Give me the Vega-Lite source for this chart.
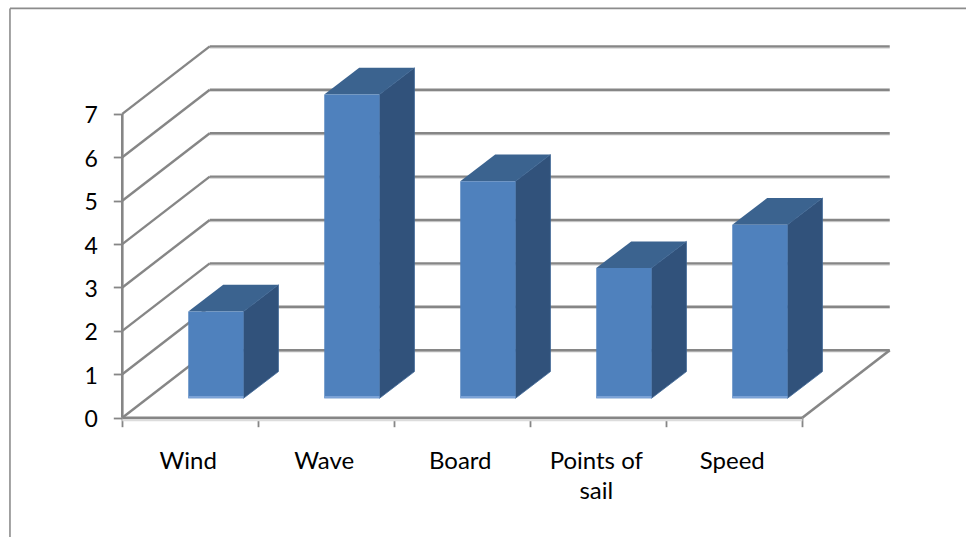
{
  "$schema": "https://vega.github.io/schema/vega-lite/v6.json",
  "width": 966,
  "height": 537,
  "padding": 0,
  "autosize": {"type": "none"},
  "background": "white",
  "config": {"view": {"stroke": null}},
  "params": [
    {"name": "wallDx", "value": 0.643},
    {"name": "wallDy", "value": 1.555},
    {"name": "barDx", "value": 0.257},
    {"name": "barDy", "value": 0.615}
  ],
  "datasets": {
    "levels": [
      {"level": 0}, {"level": 1}, {"level": 2}, {"level": 3},
      {"level": 4}, {"level": 5}, {"level": 6}, {"level": 7}
    ],
    "edges": [
      {"edge": "frame top", "x0": -0.826, "x1": 6.2037, "y0": 9.43, "y1": 9.43},
      {"edge": "frame left", "x0": -0.826, "x1": -0.826, "y0": 9.43, "y1": -2.749}
    ],
    "floorShadow": [
      {"edge": "front shadow", "x0": 0, "x1": 5, "y0": -0.05, "y1": -0.05}
    ],
    "floorEdges": [
      {"edge": "front", "x0": 0, "x1": 5, "y0": 0, "y1": 0},
      {"edge": "right", "x0": 5, "x1": 5.643, "y0": 0, "y1": 1.555},
      {"edge": "value axis", "x0": 0, "x1": 0, "y0": 0, "y1": 7}
    ]
  },
  "data": {
    "values": [
      {"topic": "Wind", "value": 2},
      {"topic": "Wave", "value": 7},
      {"topic": "Board", "value": 5},
      {"topic": "Points of\nsail", "value": 3},
      {"topic": "Speed", "value": 4}
    ]
  },
  "transform": [
    {"window": [{"op": "row_number", "as": "n"}]},
    {"calculate": "datum.n - 1", "as": "slot"},
    {"calculate": "datum.slot + 0.485", "as": "left"},
    {"calculate": "datum.left + 0.406", "as": "right"},
    {"calculate": "0.447", "as": "floor"},
    {"calculate": "datum.floor + datum.value", "as": "top"}
  ],
  "layer": [
    {
      "description": "Chart frame; this layer also carries the two axes",
      "data": {"name": "edges"},
      "mark": {"type": "rule", "stroke": "#8c8c8c", "strokeWidth": 1.6},
      "encoding": {
        "x": {
          "field": "x0",
          "type": "quantitative",
          "title": null,
          "scale": {"domain": [-0.8993, 6.2037], "nice": false, "zero": false},
          "axis": {
            "values": [0, 1, 2, 3, 4, 5],
            "orient": "bottom",
            "offset": -119.3,
            "grid": false,
            "domain": false,
            "labels": false,
            "tickSize": 9,
            "tickColor": "#868686",
            "tickWidth": 1.8,
            "title": null
          }
        },
        "x2": {"field": "x1"},
        "y": {
          "field": "y0",
          "type": "quantitative",
          "title": null,
          "scale": {"domain": [-2.749, 9.624], "nice": false, "zero": false},
          "axis": {
            "values": [0, 1, 2, 3, 4, 5, 6, 7],
            "format": "d",
            "orient": "left",
            "offset": -122.3,
            "grid": false,
            "domain": false,
            "tickSize": 9,
            "tickColor": "#868686",
            "tickWidth": 1.8,
            "labelFont": "Lato",
            "labelFontSize": 23,
            "labelColor": "#000000",
            "labelPadding": 16,
            "labelOffset": 2,
            "title": null
          }
        },
        "y2": {"field": "y1"}
      }
    },
    {
      "description": "Soft shadow under the back wall lines",
      "data": {"name": "levels"},
      "transform": [
        {"calculate": "datum.level + wallDy - 0.035", "as": "height"},
        {"calculate": "wallDx", "as": "start"},
        {"calculate": "5 + wallDx", "as": "end"}
      ],
      "mark": {"type": "rule", "stroke": "#d9d9d9", "strokeWidth": 1.6},
      "encoding": {
        "x": {"field": "start", "type": "quantitative", "title": null},
        "x2": {"field": "end"},
        "y": {"field": "height", "type": "quantitative", "title": null},
        "y2": {"field": "height"}
      }
    },
    {
      "description": "Back wall lines",
      "data": {"name": "levels"},
      "transform": [
        {"calculate": "datum.level + wallDy", "as": "height"},
        {"calculate": "wallDx", "as": "start"},
        {"calculate": "5 + wallDx", "as": "end"}
      ],
      "mark": {"type": "rule", "stroke": "#868686", "strokeWidth": 2.4},
      "encoding": {
        "x": {"field": "start", "type": "quantitative", "title": null},
        "x2": {"field": "end"},
        "y": {"field": "height", "type": "quantitative", "title": null},
        "y2": {"field": "height"}
      }
    },
    {
      "description": "Side wall lines running from the front axis to the back wall",
      "data": {"name": "levels"},
      "transform": [
        {"calculate": "datum.level + wallDy", "as": "height"},
        {"calculate": "wallDx", "as": "end"},
        {"calculate": "0", "as": "start"}
      ],
      "mark": {"type": "rule", "stroke": "#868686", "strokeWidth": 2.4},
      "encoding": {
        "x": {"field": "start", "type": "quantitative", "title": null},
        "x2": {"field": "end"},
        "y": {"field": "level", "type": "quantitative", "title": null},
        "y2": {"field": "height"}
      }
    },
    {
      "description": "Soft shadow under the floor's front edge",
      "data": {"name": "floorShadow"},
      "mark": {"type": "rule", "stroke": "#dcdcdc", "strokeWidth": 3},
      "encoding": {
        "x": {"field": "x0", "type": "quantitative", "title": null},
        "x2": {"field": "x1"},
        "y": {"field": "y0", "type": "quantitative", "title": null},
        "y2": {"field": "y1"}
      }
    },
    {
      "description": "Floor edges and the value axis line",
      "data": {"name": "floorEdges"},
      "mark": {"type": "rule", "stroke": "#868686", "strokeWidth": 2.6},
      "encoding": {
        "x": {"field": "x0", "type": "quantitative", "title": null},
        "x2": {"field": "x1"},
        "y": {"field": "y0", "type": "quantitative", "title": null},
        "y2": {"field": "y1"}
      }
    },
    {
      "description": "Right-hand faces of the bars",
      "transform": [
        {"calculate": "[0, 1]", "as": "depth"},
        {"flatten": ["depth"]},
        {"calculate": "datum.right + barDx * datum.depth", "as": "sx"},
        {"calculate": "datum.top + barDy * datum.depth", "as": "sy"},
        {"calculate": "datum.floor + barDy * datum.depth", "as": "sy2"}
      ],
      "mark": {"type": "area", "orient": "vertical", "fill": "#31527b", "stroke": "#3c6494", "strokeWidth": 0.8},
      "encoding": {
        "detail": {"field": "topic"},
        "x": {"field": "sx", "type": "quantitative", "title": null},
        "y": {"field": "sy", "type": "quantitative", "title": null},
        "y2": {"field": "sy2"}
      }
    },
    {
      "description": "Top faces of the bars",
      "transform": [
        {"calculate": "[0, 1]", "as": "depth"},
        {"flatten": ["depth"]},
        {"calculate": "datum.left + barDx * datum.depth", "as": "tx"},
        {"calculate": "datum.right + barDx * datum.depth", "as": "tx2"},
        {"calculate": "datum.top + barDy * datum.depth", "as": "ty"}
      ],
      "mark": {"type": "area", "orient": "horizontal", "fill": "#3b638f"},
      "encoding": {
        "detail": {"field": "topic"},
        "y": {"field": "ty", "type": "quantitative", "title": null},
        "x": {"field": "tx", "type": "quantitative", "title": null},
        "x2": {"field": "tx2"}
      }
    },
    {
      "description": "Front faces of the bars",
      "mark": {"type": "rect", "fill": "#4f81bd"},
      "encoding": {
        "x": {"field": "left", "type": "quantitative", "title": null},
        "x2": {"field": "right"},
        "y": {"field": "top", "type": "quantitative", "title": null},
        "y2": {"field": "floor"}
      }
    },
    {
      "description": "Light strip along the foot of each bar",
      "transform": [{"calculate": "datum.floor + 0.05", "as": "lip"}],
      "mark": {"type": "rect", "fill": "#7ba2d6"},
      "encoding": {
        "x": {"field": "left", "type": "quantitative", "title": null},
        "x2": {"field": "right"},
        "y": {"field": "lip", "type": "quantitative", "title": null},
        "y2": {"field": "floor"}
      }
    },
    {
      "description": "Category labels",
      "transform": [
        {"calculate": "datum.slot + 0.485", "as": "labelX"},
        {"calculate": "-1.18", "as": "labelY"}
      ],
      "mark": {
        "type": "text",
        "font": "Lato",
        "fontSize": 24,
        "color": "#000000",
        "align": "center",
        "baseline": "alphabetic",
        "lineBreak": "\n",
        "lineHeight": 30
      },
      "encoding": {
        "x": {"field": "labelX", "type": "quantitative", "title": null},
        "y": {"field": "labelY", "type": "quantitative", "title": null},
        "text": {"field": "topic"}
      }
    }
  ]
}
